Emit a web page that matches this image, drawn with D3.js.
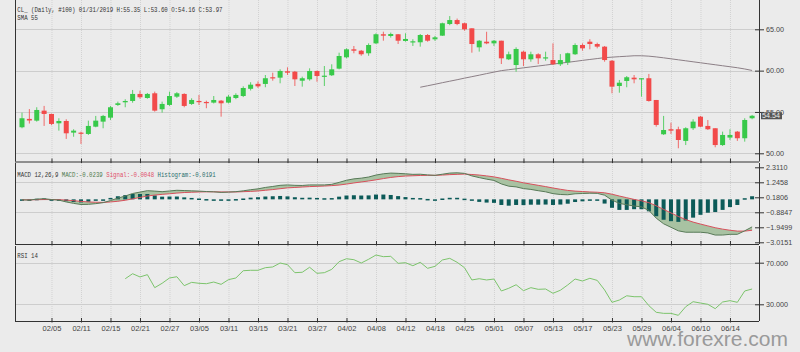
<!DOCTYPE html>
<html><head><meta charset="utf-8">
<script src="https://cdn.jsdelivr.net/npm/d3@7"></script>
<style>
body{margin:0;background:#ebebeb;}
svg{display:block;font-family:"Liberation Sans",Arial,sans-serif;}
</style></head><body>
<svg id="c" width="800" height="352"></svg>
<script>
const dates = ["01/30","01/31","02/01","02/04","02/05","02/06","02/07","02/08","02/11","02/12","02/13","02/14","02/15","02/18","02/19","02/20","02/21","02/22","02/25","02/26","02/27","02/28","03/01","03/04","03/05","03/06","03/07","03/08","03/11","03/12","03/13","03/14","03/15","03/18","03/19","03/20","03/21","03/22","03/25","03/26","03/27","03/28","03/29","04/01","04/02","04/03","04/04","04/05","04/08","04/09","04/10","04/11","04/12","04/15","04/16","04/17","04/18","04/22","04/23","04/24","04/25","04/26","04/29","04/30","05/01","05/02","05/03","05/06","05/07","05/08","05/09","05/10","05/13","05/14","05/15","05/16","05/17","05/20","05/21","05/22","05/23","05/24","05/27","05/28","05/29","05/30","05/31","06/03","06/04","06/05","06/06","06/07","06/10","06/11","06/12","06/13","06/14","06/17","06/18","06/19"];
const openP  = [53.15,54.16,53.95,55.16,54.76,53.63,53.91,52.50,52.50,52.34,53.22,53.83,54.31,55.85,56.17,56.33,57.18,56.69,57.26,55.33,55.85,56.85,57.18,55.97,56.33,56.21,56.13,56.37,56.13,56.69,56.93,57.80,58.40,58.39,59.20,59.15,59.92,59.87,58.78,58.95,59.96,59.27,59.44,60.24,61.61,62.58,62.41,62.10,63.30,64.40,64.19,64.40,63.59,63.50,63.43,64.31,63.79,64.23,65.64,66.12,65.73,65.12,62.82,63.50,63.30,63.62,61.37,60.68,62.29,61.37,61.98,61.49,61.28,60.77,61.00,61.98,63.10,63.50,63.22,62.90,61.20,58.14,58.75,59.15,58.95,59.08,56.45,52.30,52.91,52.91,51.50,53.03,54.43,53.31,53.03,51.00,51.90,52.62,51.82,54.24];
const highP  = [54.92,55.35,55.57,55.73,54.80,54.24,54.12,52.91,52.62,53.95,54.52,54.64,55.73,56.25,56.54,57.66,57.58,57.30,57.46,56.25,57.46,57.40,57.26,56.65,57.06,56.37,56.93,56.45,57.06,57.26,58.10,58.60,58.70,59.47,59.75,60.16,60.40,59.96,59.27,60.28,60.00,60.56,60.77,62.17,62.70,62.98,62.50,63.30,64.52,64.71,64.60,64.43,64.52,63.80,64.43,64.43,64.20,65.80,66.60,66.30,65.80,65.12,63.70,64.70,63.70,63.62,62.30,62.82,62.41,62.29,62.10,62.29,63.30,62.00,62.17,63.30,63.30,63.80,63.38,62.98,61.28,58.87,59.35,59.47,59.08,59.60,56.45,54.52,53.71,53.22,53.15,54.12,54.52,54.03,53.03,52.62,52.91,52.70,54.24,54.64];
const lowP   = [53.03,53.60,53.83,53.31,53.40,52.74,51.74,52.00,51.13,52.22,53.15,53.03,54.03,55.73,55.57,56.12,56.61,56.60,55.04,54.92,55.73,56.70,55.57,55.85,55.85,55.45,56.03,54.43,56.03,56.55,56.80,57.60,57.90,57.99,58.78,58.47,59.47,58.14,58.06,58.78,58.66,58.14,59.35,60.16,61.49,62.10,61.80,61.80,63.22,63.62,64.00,63.22,63.50,62.98,62.90,63.50,63.60,64.20,65.50,65.50,64.83,62.17,62.30,63.20,62.98,60.80,61.28,59.87,60.56,61.08,60.80,61.20,60.68,60.56,60.68,61.90,62.41,62.58,62.70,61.08,57.26,57.33,57.99,58.47,56.85,56.25,53.22,52.22,52.34,50.61,51.00,52.82,53.15,52.82,50.73,50.89,51.61,51.50,51.41,54.12];
const closeP = [54.24,53.97,55.24,54.76,53.55,53.91,52.42,52.74,52.37,53.31,53.95,54.52,55.57,56.05,56.33,57.18,56.78,57.18,55.16,55.97,56.93,57.26,55.73,56.45,56.21,56.13,56.45,56.05,56.85,57.06,57.90,58.30,58.10,59.08,59.08,59.96,59.75,58.95,59.08,59.96,59.35,59.39,60.16,61.77,62.58,62.41,61.98,63.10,64.40,64.23,64.43,63.62,63.83,63.55,64.31,63.62,64.03,65.73,66.12,65.64,65.00,63.22,63.62,63.30,63.62,61.49,61.98,62.62,61.37,61.98,61.49,61.61,60.77,61.28,62.10,63.10,62.70,63.22,62.90,61.28,58.06,58.54,59.20,58.95,59.08,56.33,53.43,52.82,52.74,51.61,53.03,53.83,53.22,52.91,51.00,52.22,52.22,51.82,54.03,54.54];
const sma55 = [null,null,null,null,null,null,null,null,null,null,null,null,null,null,null,null,null,null,null,null,null,null,null,null,null,null,null,null,null,null,null,null,null,null,null,null,null,null,null,null,null,null,null,null,null,null,null,null,null,null,null,null,null,null,57.99,58.17,58.35,58.54,58.72,58.90,59.09,59.27,59.45,59.64,59.82,60.00,60.11,60.22,60.34,60.45,60.56,60.67,60.79,60.90,61.01,61.12,61.24,61.35,61.46,61.57,61.63,61.69,61.74,61.80,61.80,61.75,61.66,61.55,61.43,61.31,61.19,61.07,60.95,60.83,60.71,60.59,60.47,60.35,60.20,60.02];
const macdLine = [0,-0.02,0.05,0.08,0.02,-0.02,-0.15,-0.25,-0.33,-0.32,-0.27,-0.20,-0.05,0.12,0.27,0.45,0.55,0.65,0.62,0.58,0.63,0.68,0.66,0.64,0.62,0.59,0.57,0.53,0.55,0.58,0.64,0.72,0.78,0.88,0.95,1.03,1.06,1.03,1.02,1.06,1.06,1.06,1.10,1.24,1.39,1.49,1.54,1.62,1.76,1.85,1.90,1.88,1.85,1.81,1.82,1.77,1.74,1.82,1.90,1.92,1.88,1.70,1.58,1.47,1.38,1.13,0.97,0.92,0.80,0.74,0.65,0.57,0.44,0.38,0.36,0.43,0.45,0.47,0.46,0.33,-0.02,-0.25,-0.35,-0.44,-0.50,-0.75,-1.30,-1.70,-1.95,-2.20,-2.30,-2.30,-2.30,-2.35,-2.50,-2.50,-2.45,-2.45,-2.20,-1.92];
const signalLine = [0,0,0.01,0.02,0.02,0.01,-0.02,-0.06,-0.11,-0.15,-0.17,-0.18,-0.15,-0.10,-0.03,0.07,0.17,0.27,0.34,0.39,0.43,0.48,0.52,0.54,0.56,0.57,0.57,0.56,0.56,0.56,0.58,0.60,0.63,0.68,0.73,0.79,0.85,0.88,0.91,0.94,0.96,0.98,1.01,1.05,1.12,1.20,1.27,1.34,1.42,1.51,1.59,1.65,1.69,1.71,1.73,1.74,1.74,1.76,1.79,1.81,1.83,1.80,1.76,1.70,1.63,1.53,1.42,1.32,1.21,1.12,1.03,0.94,0.84,0.75,0.67,0.62,0.59,0.56,0.54,0.50,0.40,0.27,0.15,0.03,-0.07,-0.20,-0.42,-0.68,-0.93,-1.18,-1.40,-1.58,-1.72,-1.85,-1.98,-2.08,-2.16,-2.22,-2.22,-2.16];
const histogram = [0,-0.02,0.04,0.06,0,-0.03,-0.13,-0.19,-0.22,-0.17,-0.10,-0.02,0.10,0.22,0.30,0.38,0.38,0.38,0.28,0.19,0.20,0.20,0.14,0.10,0.06,0.02,0,-0.03,-0.01,0.02,0.06,0.12,0.15,0.20,0.22,0.24,0.21,0.15,0.11,0.12,0.10,0.08,0.09,0.19,0.27,0.29,0.27,0.28,0.34,0.34,0.31,0.23,0.16,0.10,0.09,0.03,0,0.06,0.11,0.11,0.05,-0.10,-0.18,-0.23,-0.25,-0.40,-0.45,-0.40,-0.41,-0.38,-0.38,-0.37,-0.40,-0.37,-0.31,-0.19,-0.14,-0.09,-0.08,-0.30,-0.60,-0.75,-0.75,-0.70,-0.70,-0.85,-1.20,-1.45,-1.55,-1.60,-1.50,-1.30,-1.10,-0.95,-0.90,-0.75,-0.55,-0.40,0.08,0.22];
const rsi14 = [null,null,null,null,null,null,null,null,null,null,null,null,null,null,54.6,59.4,56.3,58.5,46.0,50.2,55.3,56.5,47.9,51.1,50.2,49.8,51.4,49.2,53.7,55.3,62.3,62.7,62.7,65.2,65.9,69.7,68.1,60.4,60.8,65.6,59.8,60.4,63.6,71.0,73.8,72.9,69.7,73.3,77.4,75.8,76.1,69.4,70.0,67.1,70.4,64.6,66.5,72.6,74.2,70.4,65.2,53.4,54.6,53.4,54.3,42.8,45.4,48.8,43.1,46.0,44.4,44.7,40.6,43.5,48.6,54.3,52.4,55.0,53.0,43.8,31.9,34.1,38.2,37.3,37.3,28.7,22.3,21.3,21.3,19.4,27.7,32.5,31.2,30.0,25.8,32.2,33.5,31.9,42.8,44.7];
const priceTicks = [50,55,60,65];
const macdTicks = [2.3110,1.2458,0.1806,-0.8847,-1.9499,-3.0151];
const rsiTicks = [30,70];
const dateTicks = ["02/05","02/11","02/15","02/21","02/27","03/05","03/11","03/15","03/21","03/27","04/02","04/08","04/12","04/18","04/25","05/01","05/07","05/13","05/17","05/23","05/29","06/04","06/10","06/14"];
const lastPrice = "54.54";

const svg = d3.select("#c");
const L = 15, R = 759;
const P = {price:[0,161.5], macd:[163,244], rsi:[246,321]};
const x = d3.scalePoint().domain(dates).range([22, 752.1]);
const yP = d3.scaleLinear().domain([50,65]).range([153.3,29.3]);
const yM = d3.scaleLinear().domain([-3.0151,2.3110]).range([242.3,167.3]);
const yR = d3.scaleLinear().domain([30,70]).range([304.3,262.7]);
const idx = d3.range(dates.length);
const GREEN = "#38c94a", RED = "#f24a4a";

svg.append("rect").attr("width",800).attr("height",352).attr("fill","#ebebeb");

function vgrid(top,bottom){
  svg.append("g").selectAll("line").data(dateTicks).join("line")
    .attr("x1",d=>x(d)+0.5).attr("x2",d=>x(d)+0.5).attr("y1",top).attr("y2",bottom)
    .attr("stroke","#d2d2d2").attr("stroke-dasharray","1,1");
}
function hgrid(scale,vals){
  svg.append("g").selectAll("line").data(vals).join("line")
    .attr("x1",L).attr("x2",R).attr("y1",d=>Math.round(scale(d))+0.5).attr("y2",d=>Math.round(scale(d))+0.5)
    .attr("stroke","#cdcdcd");
}
vgrid(P.price[0],P.price[1]); vgrid(P.macd[0],P.macd[1]); vgrid(P.rsi[0],P.rsi[1]);
hgrid(yP,priceTicks); hgrid(yM,[1.2458,-0.8847]); hgrid(yR,rsiTicks);

function frame(top,bottom,labels){
  const g = svg.append("g").attr("transform",`translate(0,${bottom})`);
  const ax = d3.axisBottom(x).tickValues(dateTicks).tickSizeInner(-3).tickSizeOuter(0).tickPadding(5);
  g.call(ax);
  g.select(".domain").attr("d",`M${L},0.5H${R}`).attr("stroke","#333");
  g.selectAll(".tick line").attr("stroke","#333").attr("y1",1.5);
  g.selectAll(".tick text").attr("fill","#444").style("font-size","7.5px").attr("font-family","Liberation Sans, Arial, sans-serif");
  if(!labels) g.selectAll(".tick text").remove();
  svg.append("line").attr("x1",L+0.5).attr("x2",L+0.5).attr("y1",top).attr("y2",bottom).attr("stroke","#333");
}
frame(P.price[0],P.price[1],false);
frame(P.macd[0],P.macd[1],false);
frame(P.rsi[0],P.rsi[1],true);

function raxis(scale,vals,fmt,top,bottom){
  const g = svg.append("g").attr("transform",`translate(${R},0)`);
  g.call(d3.axisRight(scale).tickValues(vals).tickFormat(fmt).tickSize(5).tickPadding(2));
  g.select(".domain").attr("d",`M0.5,${top}V${bottom}`).attr("stroke","#333");
  g.selectAll(".tick line").attr("x1",-4).attr("stroke","#333");
  g.selectAll(".tick text").attr("fill","#444").style("font-size","7.2px").attr("font-family","Liberation Sans, Arial, sans-serif");
}
raxis(yP,priceTicks,d3.format(".2f"),P.price[0],P.price[1]);
raxis(yM,macdTicks,d3.format(".4f"),P.macd[0],P.macd[1]);
raxis(yR,rsiTicks,d3.format(".3f"),P.rsi[0],P.rsi[1]);

svg.append("path").datum(idx).attr("fill","none").attr("stroke","#8c7f86").attr("stroke-width",1)
  .attr("d",d3.line().defined(i=>sma55[i]!=null).x(i=>x(dates[i])).y(i=>yP(sma55[i])));

const cg = svg.append("g");
cg.selectAll("line").data(idx).join("line")
  .attr("x1",i=>x(dates[i])).attr("x2",i=>x(dates[i]))
  .attr("y1",i=>yP(highP[i])).attr("y2",i=>yP(lowP[i]))
  .attr("stroke",i=>closeP[i]>=openP[i]?GREEN:RED).attr("stroke-width",1).attr("opacity",0.8);
cg.selectAll("rect").data(idx).join("rect")
  .attr("x",i=>x(dates[i])-2.5).attr("width",5)
  .attr("y",i=>yP(Math.max(openP[i],closeP[i])))
  .attr("height",i=>Math.max(1.2,Math.abs(yP(openP[i])-yP(closeP[i]))))
  .attr("fill",i=>closeP[i]>=openP[i]?GREEN:RED);

const lp = yP(+lastPrice);
svg.append("rect").attr("x",R+2).attr("y",lp-3.5).attr("width",21).attr("height",7).attr("fill","#555");
svg.append("text").attr("x",R+3).attr("y",lp+2.6).attr("fill","#eee").style("font-size","7.2px").text(lastPrice);

svg.append("path").datum(idx).attr("fill","#a8c2a2").attr("stroke","none")
  .attr("d",d3.area().x(i=>x(dates[i])).y0(i=>yM(signalLine[i])).y1(i=>yM(macdLine[i])));
svg.append("g").selectAll("rect").data(idx).join("rect")
  .attr("x",i=>x(dates[i])-2).attr("width",4)
  .attr("y",i=>Math.min(yM(0),yM(histogram[i]))-0.5)
  .attr("height",i=>Math.max(1.5,Math.abs(yM(histogram[i])-yM(0))))
  .attr("fill","#0c5a58");
svg.append("path").datum(idx).attr("fill","none").attr("stroke","#d8505c").attr("stroke-width",1)
  .attr("d",d3.line().x(i=>x(dates[i])).y(i=>yM(signalLine[i])));
svg.append("path").datum(idx).attr("fill","none").attr("stroke","#587a58").attr("stroke-width",1)
  .attr("d",d3.line().x(i=>x(dates[i])).y(i=>yM(macdLine[i])));

svg.append("path").datum(idx).attr("fill","none").attr("stroke","#7cc46c").attr("stroke-width",1)
  .attr("d",d3.line().defined(i=>rsi14[i]!=null).x(i=>x(dates[i])).y(i=>yR(rsi14[i])));

const CW = 3.42;
function mono(parts,y){
  let c = 0;
  parts.forEach(([t,col])=>{
    const s = t.replace(/\s+$/,"");
    svg.append("text").attr("x",17.3+c*CW).attr("y",y).attr("fill",col)
      .attr("font-family","Liberation Mono, DejaVu Sans Mono, monospace").style("font-size","7px")
      .attr("textLength",s.length*CW).attr("lengthAdjust","spacingAndGlyphs").text(s);
    c += t.length;
  });
}
mono([["CL_ (Daily, #100) 01/31/2019 H:55.35 L:53.60 O:54.16 C:53.97","#333"]],11.5);
mono([["SMA 55","#333"]],20.2);
mono([["MACD 12,26,9 ","#333"],["MACD:-0.0239 ","#4f7a4f"],["Signal:-0.0048 ","#e0506a"],["Histogram:-0.0191","#2c6f6c"]],176.8);
mono([["RSI 14","#333"]],257.5);

svg.append("text").attr("x",627).attr("y",346).attr("fill","#9a9a9a").style("font-size","21px")
  .attr("font-family","Liberation Sans, Arial, sans-serif").text("www.forexre.com");
</script>
</body></html>
